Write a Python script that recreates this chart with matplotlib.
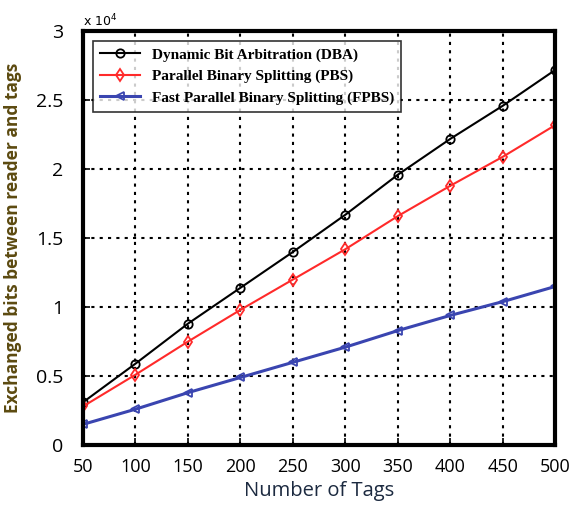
import matplotlib
matplotlib.use('Agg')
import matplotlib.pyplot as plt

## data
tags=[50,100,150,200,250,300,350,400,450,500]
dba=[0.31,0.59,0.88,1.14,1.40,1.67,1.96,2.22,2.46,2.72]
pbs=[0.28,0.51,0.75,0.98,1.20,1.42,1.66,1.88,2.09,2.32]
fpbs=[0.15,0.26,0.38,0.49,0.60,0.71,0.83,0.94,1.04,1.15]
yticks=[0,0.5,1,1.5,2,2.5,3]
ytick_labels=['0','0.5','1','1.5','2','2.5','3']

fig=plt.figure(figsize=(5.72,5.11),dpi=100)
ax=fig.add_axes([0.145,0.129,0.826,0.81])

##lines
ax.plot(tags,dba,color='black',lw=1.5,marker='o',ms=6,mfc='none',mew=1.3,
        label='Dynamic Bit Arbitration (DBA)')
ax.plot(tags,pbs,color='#ff2a2a',lw=1.5,marker='d',ms=6,mfc='none',mew=1.3,
        label='Parallel Binary Splitting (PBS)')
ax.plot(tags,fpbs,color='#3a45b0',lw=2.2,marker='<',ms=6,mfc='none',mew=1.3,
        label='Fast Parallel Binary Splitting (FPBS)')

##axes
ax.set_xlim(50,500)
ax.set_ylim(0,3)
ax.set_xticks(tags)
ax.set_yticks(yticks)
ax.set_yticklabels(ytick_labels)
ax.grid(True,color='black',linestyle=(0,(1.5,2.5)),lw=1.5)
ax.tick_params(direction='in',length=5,width=1.2,labelsize=13,pad=9)
ax.tick_params(axis='y',labelsize=14,pad=14)
for lab in ax.get_xticklabels()+ax.get_yticklabels():
    lab.set_family('Open Sans')
for sp in ax.spines.values():
    sp.set_linewidth(3)

ax.set_xlabel('Number of Tags',fontsize=14.5,family='Open Sans',color='#1c2a40',labelpad=4)
ax.set_ylabel('Exchanged bits between reader and tags',fontsize=12.5,family='Open Sans',
              color='#5c4a10',fontweight='bold',labelpad=10)
ax.text(0.0,1.012,r'x 10$^4$',transform=ax.transAxes,fontsize=9,family='DejaVu Sans')

##legend
leg=ax.legend(loc='upper left',bbox_to_anchor=(0.005,0.995),frameon=True,fancybox=False,
              edgecolor='black',handlelength=2.6,borderpad=0.45,labelspacing=0.5,
              prop={'family':'Liberation Serif','weight':'bold','size':11})
leg.get_frame().set_linewidth(1.2)

plt.savefig('out.png',dpi=100)
